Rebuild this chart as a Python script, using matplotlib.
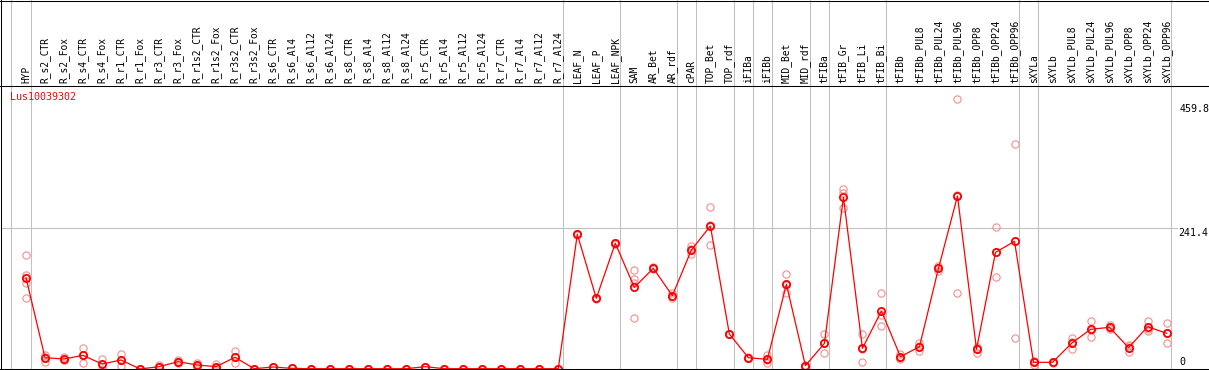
import numpy as np
import matplotlib
matplotlib.use("Agg")
import matplotlib.pyplot as plt

categories = ["HYP", "R_s2_CTR", "R_s2_Fox", "R_s4_CTR", "R_s4_Fox", "R_r1_CTR", "R_r1_Fox",
              "R_r3_CTR", "R_r3_Fox", "R_r1s2_CTR", "R_r1s2_Fox", "R_r3s2_CTR", "R_r3s2_Fox",
              "R_s6_CTR", "R_s6_Al4", "R_s6_Al12", "R_s6_Al24", "R_s8_CTR", "R_s8_Al4", "R_s8_Al12",
              "R_s8_Al24", "R_r5_CTR", "R_r5_Al4", "R_r5_Al12", "R_r5_Al24", "R_r7_CTR", "R_r7_Al4",
              "R_r7_Al12", "R_r7_Al24", "LEAF_N", "LEAF_P", "LEAF_NPK", "SAM", "AR_Bet", "AR_rdf",
              "cPAR", "TOP_Bet", "TOP_rdf", "iFIBa", "iFIBb", "MID_Bet", "MID_rdf", "tFIBa",
              "tFIB_Gr", "tFIB_Li", "tFIB_Bi", "tFIBb", "tFIBb_PUL8", "tFIBb_PUL24", "tFIBb_PUL96",
              "tFIBb_OPP8", "tFIBb_OPP24", "tFIBb_OPP96", "sXYLa", "sXYLb", "sXYLb_PUL8",
              "sXYLb_PUL24", "sXYLb_PUL96", "sXYLb_OPP8", "sXYLb_OPP24", "sXYLb_OPP96"]

mean_values = [155.9, 19.3, 17.1, 23.3, 8.5, 15.4, 0.0, 4.0, 12.5, 6.8, 4.0, 20.0, 0.5,
               3.4, 1.0, 0.5, 0.5, 0.5, 0.5, 0.5, 0.5, 4.0, 0.5, 0.5, 0.5, 0.5, 0.5, 0.5, 0.5,
               229.8, 120.6, 214.5, 139.3, 171.8, 125.1, 203.0, 244.0, 59.7, 19.3, 16.5,
               144.5, 5.7, 43.8, 293.0, 35.3, 99.0, 21.0, 38.0, 171.8, 295.2, 33.6, 199.0,
               217.8, 11.4, 11.4, 43.8, 67.7, 71.1, 36.4, 72.2, 60.9]

rep_a = [194.5, 21.0, 20.0, 35.3, 16.5, 25.0, 0.0, 6.0, 15.0, 10.8, 8.5, 30.7, 0.5,
         3.4, 1.0, 0.5, 0.5, 0.5, 0.5, 0.5, 0.5, 4.0, 0.5, 0.5, 0.5, 0.5, 0.5, 0.5, 0.5,
         230.0, 121.0, 214.0, 169.0, 174.0, 129.0, 209.0, 276.0, 60.0, 19.0, 24.0,
         161.5, 5.7, 59.7, 307.0, 59.7, 129.0, 25.6, 43.8, 176.0, 459.8, 27.9, 241.7,
         383.4, 6.8, 11.4, 52.3, 82.0, 75.0, 41.0, 82.5, 78.0]
rep_b = [146.2, 12.5, 15.4, 10.8, 0.0, 5.0, 0.0, 3.0, 10.0, 5.0, 2.0, 9.7, 0.5,
         3.4, 1.0, 0.5, 0.5, 0.5, 0.5, 0.5, 0.5, 4.0, 0.5, 0.5, 0.5, 0.5, 0.5, 0.5, 0.5,
         229.0, 120.0, 215.0, 153.6, 172.0, 121.0, 196.0, 211.0, 59.0, 20.0, 11.0,
         129.0, 5.0, 26.7, 299.8, 12.5, 92.0, 16.5, 31.2, 167.8, 129.0, 38.0, 156.4,
         52.3, 13.0, 11.0, 33.6, 55.0, 70.0, 29.6, 65.4, 43.8]
rep_c = [120.6, 24.0, 16.0, 24.0, 9.0, 16.0, 0.0, 3.0, 12.5, 5.0, 2.0, 20.0, 0.5,
         3.4, 1.0, 0.5, 0.5, 0.5, 0.5, 0.5, 0.5, 4.0, 0.5, 0.5, 0.5, 0.5, 0.5, 0.5, 0.5,
         231.0, 121.0, 214.0, 87.6, 170.0, 125.0, 204.0, 245.0, 60.0, 19.0, 15.0,
         143.0, 6.0, 45.0, 274.0, 34.0, 73.4, 21.0, 39.0, 171.8, 296.8, 34.9, 199.0,
         217.7, 14.4, 12.0, 45.5, 66.0, 68.0, 38.6, 68.7, 60.9]
rep_d = [160.4] + [np.nan] * 31 + [147.0] + [np.nan] * 28

series_name = "Lus10039302"
y_tick_labels = ["459.8", "241.4", "0"]
group_ends = ["HYP", "R_r7_Al24", "LEAF_NPK", "AR_rdf", "cPAR", "TOP_rdf", "iFIBa", "iFIBb",
              "MID_rdf", "tFIBa", "tFIB_Bi", "tFIBb_OPP96", "sXYLa", "sXYLb_OPP96"]

W, H = 1209, 370
fig = plt.figure(figsize=(W / 100, H / 100), dpi=100)
ax = fig.add_axes([0, 0, 1, 1])
ax.set_axis_off()

# pixel -> data mapping
x0_px, dx_px = 26.0, 19.01
y0_px, sy = 369.0, 283.0 / 482.8


def px_x(p):
    return (p - x0_px) / dx_px


def px_y(p):
    return (y0_px - p) / sy


ax.set_xlim(px_x(0), px_x(W))
ax.set_ylim(px_y(H), px_y(0))

pos = np.arange(len(categories))
gray = "#c0c0c0"
lw1 = 0.75

# vertical group separators (full height)
sep_x = [px_x(10.7)] + [categories.index(c) + 0.24 for c in group_ends]
for sx in sep_x:
    ax.axvline(sx, color=gray, lw=lw1, zorder=1)

# horizontal mid gridline
ax.axhline(241.4, xmin=1 / W, xmax=1177 / W, color=gray, lw=lw1, zorder=1)

# frame lines
ax.axhline(px_y(0.5), color="black", lw=lw1, zorder=5)
ax.axhline(px_y(85.5), color="black", lw=lw1, zorder=5)
ax.axhline(px_y(368.6), color="black", lw=lw1, zorder=5)
ax.axvline(px_x(0.8), color="black", lw=lw1, zorder=5)

# replicates
for reps in (rep_a, rep_b, rep_c, rep_d):
    ax.plot(pos, reps, linestyle="none", marker="o", ms=5.2, mfc="none",
            mec="#f09a9a", mew=0.9, zorder=2)

# mean line
ax.plot(pos, mean_values, color="red", lw=0.9, zorder=3)
ax.plot(pos, mean_values, linestyle="none", marker="o", ms=5.2, mfc="none",
        mec="red", mew=1.3, zorder=4)

font = "DejaVu Sans Mono"
fs = 6.9
for i, c in enumerate(categories):
    ax.text(i, px_y(83), c, rotation=90, ha="center", va="bottom",
            fontsize=fs, family=font, color="black")

ax.text(px_x(10), px_y(97.5), series_name, ha="left", va="center",
        fontsize=fs + 0.3, family=font, color="red")

ax.text(px_x(1180), px_y(108.5), y_tick_labels[0], ha="left", va="center",
        fontsize=fs + 0.3, family=font, color="black")
ax.text(px_x(1178), px_y(232.5), y_tick_labels[1], ha="left", va="center",
        fontsize=fs + 0.3, family=font, color="black")
ax.text(px_x(1179), px_y(362), y_tick_labels[2], ha="left", va="center",
        fontsize=fs + 0.3, family=font, color="black")

fig.savefig("out.png", dpi=100)
